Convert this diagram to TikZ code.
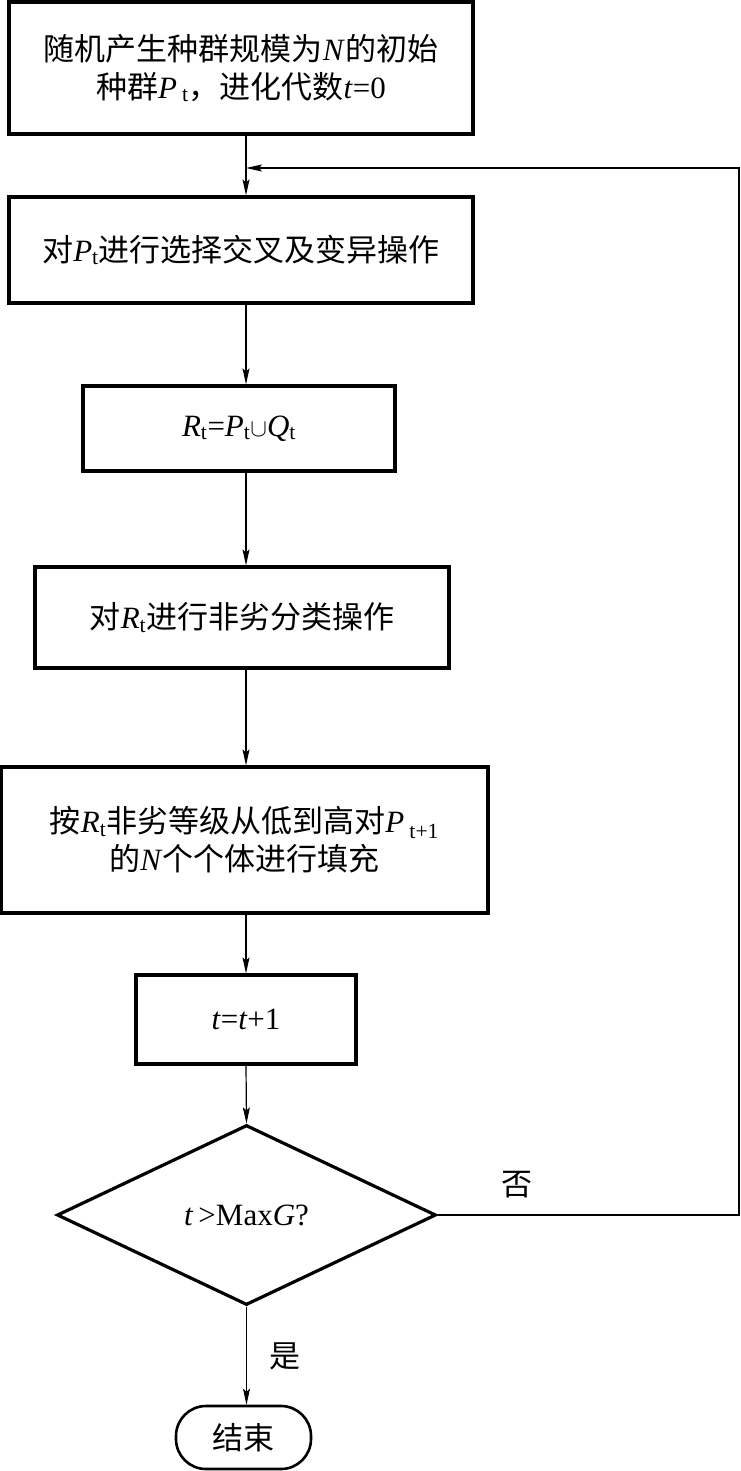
\documentclass[tikz,border=0pt]{standalone}
\usepackage{fontspec}
\setmainfont{Liberation Serif}
\newfontfamily\cjk{Noto Sans CJK SC}
\usetikzlibrary{arrows.meta,shapes.geometric}
\newcommand{\zh}[1]{{\cjk #1}}
\newcommand{\vv}[1]{\textit{#1}}
\newcommand{\sbt}[1]{\textsubscript{#1}}
\begin{document}
\begin{tikzpicture}[x=1pt,y=-1pt,
  txt/.style={font=\fontsize{31}{38}\selectfont},
  box/.style={draw, line width=3.2pt, inner sep=0pt, align=center, txt},
  conn/.style={line width=1.2pt, -{Stealth[length=16pt,width=7pt,inset=3pt]}}]
\useasboundingbox (0,0) rectangle (740,1471);
\coordinate (spine) at (246,0);
\node[box, minimum width=464pt, minimum height=132pt] (b1) at (241,68)
  {\zh{随机产生种群规模为}\vv{N}\zh{的初始}\\\zh{种群}\vv{P}\,\sbt{t}\zh{，进化代数}\vv{t}=0};
\node[box, minimum width=464pt, minimum height=106pt] (b2) at (241,250)
  {\zh{对}\vv{P}\sbt{t}\zh{进行选择交叉及变异操作}};
\node[box, minimum width=312pt, minimum height=85pt] (b3) at (239,428.5)
  {\vv{R}\sbt{t}=\vv{P}\sbt{t}$\cup$\vv{Q}\sbt{t}};
\node[box, minimum width=414pt, minimum height=101pt] (b4) at (242,617.5)
  {\zh{对}\vv{R}\sbt{t}\zh{进行非劣分类操作}};
\node[box, minimum width=487pt, minimum height=146pt] (b5) at (244.5,840)
  {\zh{按}\vv{R}\sbt{t}\zh{非劣等级从低到高对}\vv{P}\,\sbt{t+1}\\\zh{的}\vv{N}\zh{个个体进行填充}};
\node[box, minimum width=220pt, minimum height=89pt] (b6) at (246,1019.5)
  {\vv{t}=\vv{t}+1};
\node[box, diamond, minimum width=379pt, minimum height=180pt] (dia) at (246.5,1215)
  {\vv{t}\,>Max\vv{G}?};
\node[box, line width=2.6pt, rounded corners=30pt, minimum width=135pt, minimum height=63pt] (end) at (243.5,1437.5)
  {\zh{结束}};
\node[txt] (no) at (517,1185) {\zh{否}};
\node[txt] (yes) at (285,1356) {\zh{是}};
\coordinate (rc) at (739,168);
\coordinate (join) at (246,168);
\draw[conn] (b1.south -| spine) -- (b2.north -| spine);
\draw[conn] (b2.south -| spine) -- (b3.north -| spine);
\draw[conn] (b3.south -| spine) -- (b4.north -| spine);
\draw[conn] (b4.south -| spine) -- (b5.north -| spine);
\draw[conn] (b5.south -| spine) -- (b6.north -| spine);
\draw[conn] (b6.south -| spine) -- (dia.north);
\draw[conn] (dia.south) -- (end.north -| dia.south);
\draw[conn] (dia.east) -| (rc) -- (join);
\end{tikzpicture}
\end{document}
